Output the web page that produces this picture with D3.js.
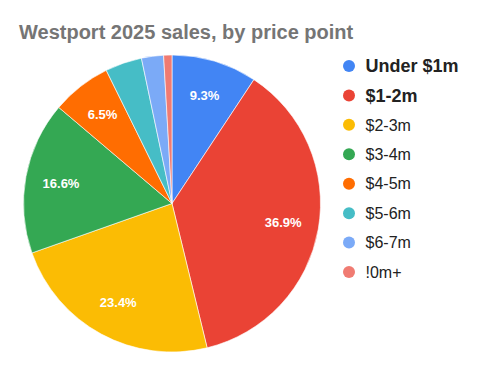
<!DOCTYPE html>
<html>
<head>
<meta charset="utf-8">
<script src="https://cdn.jsdelivr.net/npm/d3@7"></script>
<style>
  html, body { margin: 0; padding: 0; background: #fff; }
  svg { display: block; font-family: "Liberation Sans", Arial, sans-serif; }
</style>
</head>
<body>
<div id="chart"></div>
<script>
// Price bands and their share of sales (percent).
const categories = ['Under $1m', '$1-2m', '$2-3m', '$3-4m', '$4-5m', '$5-6m', '$6-7m', '!0m+'];
const shares     = [9.3, 36.9, 23.4, 16.6, 6.5, 4.0, 2.4, 0.9];
const colors     = ['#4285f4', '#ea4335', '#fbbc04', '#34a853', '#ff6d01', '#46bdc6', '#7baaf7', '#f07b72'];
// First two legend entries are emphasised in the original.
const boldLegend = [true, true, false, false, false, false, false, false];

const width = 479, height = 371;

const svg = d3.select('#chart')
    .append('svg')
    .attr('width', width)
    .attr('height', height);

svg.append('text')
    .attr('x', 19)
    .attr('y', 39)
    .style('font-size', '20px')
    .style('font-weight', '700')
    .style('fill', '#757575')
    .text('Westport 2025 sales, by price point');

const cx = 172, cy = 203.5, radius = 148.5;

const data = categories.map((c, i) => ({ label: c, value: shares[i], color: colors[i] }));

const pie = d3.pie()
    .sort(null)
    .value(d => d.value);

const arc = d3.arc().innerRadius(0).outerRadius(radius);
const labelArc = d3.arc().innerRadius(radius * 0.76).outerRadius(radius * 0.76);

const g = svg.append('g').attr('transform', `translate(${cx},${cy})`);

const arcs = pie(data);

g.selectAll('path.slice')
    .data(arcs)
    .join('path')
    .attr('class', 'slice')
    .attr('d', arc)
    .attr('fill', d => d.data.color)
    .attr('stroke', '#fff')
    .attr('stroke-width', 0.6);

// Percent labels only on slices big enough to hold them.
g.selectAll('text.pct')
    .data(arcs.filter(d => d.data.value >= 5))
    .join('text')
    .attr('class', 'pct')
    .attr('transform', d => `translate(${labelArc.centroid(d)})`)
    .attr('text-anchor', 'middle')
    .attr('dy', '0.35em')
    .style('font-size', '13px')
    .style('font-weight', '700')
    .style('fill', '#fff')
    .text(d => d.data.value.toFixed(1) + '%');

// Legend.
const legendY = d3.scalePoint()
    .domain(categories)
    .range([66, 272]);

const legend = svg.append('g')
    .selectAll('g.item')
    .data(data)
    .join('g')
    .attr('class', 'item')
    .attr('transform', d => `translate(349, ${legendY(d.label)})`);

legend.append('circle')
    .attr('r', 6)
    .attr('fill', d => d.color);

legend.append('text')
    .attr('x', 16.5)
    .attr('dy', '0.36em')
    .style('font-size', (d, i) => boldLegend[i] ? '18px' : '16px')
    .style('font-weight', (d, i) => boldLegend[i] ? '700' : '400')
    .style('fill', '#222')
    .text(d => d.label);
</script>
</body>
</html>
